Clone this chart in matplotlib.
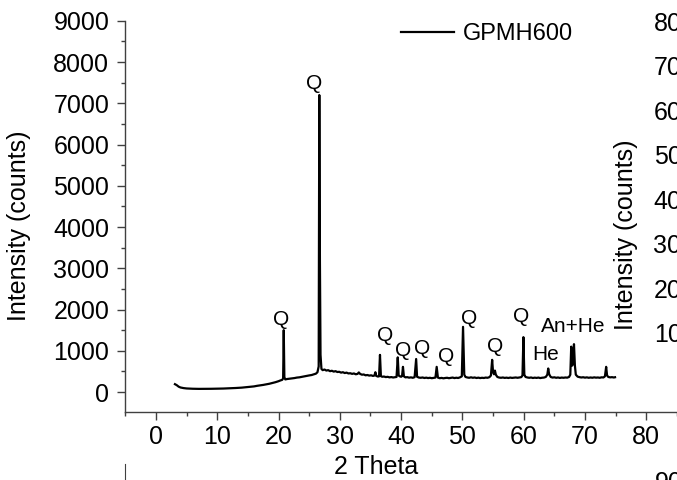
import matplotlib
matplotlib.use("Agg")
import matplotlib.pyplot as plt
from matplotlib.ticker import MultipleLocator

plt.rcParams['font.family'] = ['Liberation Sans', 'DejaVu Sans']

# ---------------- data ----------------
two_theta = [
    3.1, 3.4, 3.7, 4.0, 4.5, 5.0, 5.5, 6.0, 7.0, 8.0, 9.0, 10.0, 11.0, 12.0, 13.0, 14.0,
    15.0, 16.0, 16.5, 17.0, 17.5, 18.0, 18.5, 19.0, 19.5, 20.0, 20.3, 20.6, 20.75, 20.85,
    20.95, 21.1, 21.4, 21.8, 22.2, 22.6, 23.0, 23.4, 23.8, 24.2, 24.6, 25.0, 25.4, 25.8,
    26.1, 26.35, 26.55, 26.65, 26.75, 26.85, 27.0, 27.2, 27.5, 27.8, 28.1, 28.4, 28.7,
    29.0, 29.3, 29.6, 29.9, 30.2, 30.5, 30.8, 31.1, 31.4, 31.7, 32.0, 32.3, 32.6, 32.9,
    33.1, 33.3, 33.6, 33.9, 34.2, 34.5, 34.8, 35.1, 35.4, 35.65, 35.8, 35.95, 36.2, 36.4,
    36.55, 36.7, 36.9, 37.2, 37.5, 37.8, 38.1, 38.4, 38.7, 39.0, 39.25, 39.45, 39.6, 39.8,
    40.0, 40.15, 40.3, 40.45, 40.7, 41.0, 41.3, 41.6, 41.9, 42.2, 42.45, 42.6, 42.9, 43.2,
    43.5, 43.8, 44.1, 44.4, 44.7, 45.0, 45.3, 45.6, 45.8, 46.0, 46.3, 46.6, 46.9, 47.2,
    47.5, 47.8, 48.1, 48.4, 48.7, 49.0, 49.3, 49.6, 49.9, 50.1, 50.3, 50.5, 50.8, 51.1,
    51.4, 51.7, 52.0, 52.3, 52.6, 52.9, 53.2, 53.5, 53.8, 54.1, 54.4, 54.65, 54.85, 55.0,
    55.15, 55.3, 55.45, 55.7, 56.0, 56.3, 56.6, 56.9, 57.2, 57.5, 57.8, 58.1, 58.4, 58.7,
    59.0, 59.3, 59.6, 59.8, 59.95, 60.1, 60.3, 60.6, 60.9, 61.2, 61.5, 61.8, 62.1, 62.4,
    62.7, 63.0, 63.3, 63.6, 63.85, 64.0, 64.15, 64.4, 64.7, 65.0, 65.3, 65.6, 65.9, 66.2,
    66.5, 66.8, 67.1, 67.4, 67.6, 67.75, 67.9, 68.05, 68.2, 68.35, 68.5, 68.8, 69.1, 69.4,
    69.7, 70.0, 70.3, 70.6, 70.9, 71.2, 71.5, 71.8, 72.1, 72.4, 72.7, 73.0, 73.25, 73.45,
    73.6, 73.8, 74.1, 74.4, 74.7, 74.9,
]
intensity = [
    190, 165, 130, 110, 95, 86, 82, 79, 76, 76, 78, 80, 84, 90, 97, 106,
    120, 136, 150, 160, 172, 185, 200, 218, 238, 262, 280, 295, 330, 1500,
    360, 305, 315, 322, 330, 338, 350, 356, 368, 380, 390, 402, 412, 430,
    445, 480, 620, 7200, 3200, 900, 560, 530, 545, 520, 530, 505, 515,
    495, 505, 485, 490, 470, 480, 460, 470, 450, 455, 440, 450, 430, 440,
    475, 440, 420, 425, 405, 412, 398, 405, 390, 400, 480, 390, 375, 380,
    900, 385, 370, 375, 362, 368, 355, 362, 352, 360, 365, 840, 400, 380,
    370, 385, 610, 380, 355, 360, 348, 355, 345, 360, 800, 370, 350, 345,
    352, 340, 348, 338, 345, 335, 342, 350, 610, 350, 335, 342, 332, 340,
    345, 335, 342, 350, 338, 346, 340, 355, 380, 1580, 420, 365, 352, 345,
    356, 345, 352, 340, 348, 338, 345, 340, 350, 345, 360, 400, 780, 480,
    430, 520, 420, 365, 350, 345, 352, 342, 348, 340, 350, 342, 348, 352,
    345, 352, 360, 400, 1330, 420, 365, 352, 345, 352, 340, 348, 342, 350,
    338, 346, 350, 365, 420, 570, 430, 365, 350, 356, 345, 352, 342, 350,
    345, 352, 348, 365, 420, 1100, 640, 700, 1160, 640, 420, 372, 360, 352,
    358, 348, 355, 345, 352, 346, 355, 348, 352, 345, 356, 352, 380, 610,
    400, 365, 355, 360, 352, 358,
]
series_name = "GPMH600"

# phase annotations: label, 2-theta position, intensity position
peak_labels = ["Q", "Q", "Q", "Q", "Q", "Q", "Q", "Q", "Q", "He", "An+He"]
label_x = [20.4, 25.8, 37.4, 40.35, 43.5, 47.4, 51.1, 55.3, 59.5, 63.6, 68.0]
label_y = [1763, 7470, 1358, 1018, 1060, 856, 1787, 1098, 1826, 914, 1584]

x_label = "2 Theta"
y_label = "Intensity (counts)"

# ---------------- figure ----------------
W, H = 677, 480
fig = plt.figure(figsize=(W / 100, H / 100), dpi=100)
spine_c = '#404040'

ax = fig.add_axes([125.3 / W, (H - 412.3) / H, (707.6 - 125.3) / W, (412.3 - 20.8) / H])
ax.plot(two_theta, intensity, color='black', lw=1.6, label=series_name)
ax.set_xlim(-5, 90)
ax.set_ylim(-492, 9000)
ax.xaxis.set_major_locator(MultipleLocator(10))
ax.xaxis.set_minor_locator(MultipleLocator(5))
ax.yaxis.set_major_locator(MultipleLocator(1000))
ax.yaxis.set_minor_locator(MultipleLocator(500))
for s in ['top', 'right']:
    ax.spines[s].set_visible(False)
for s in ['left', 'bottom']:
    ax.spines[s].set_color(spine_c)
    ax.spines[s].set_linewidth(1.0)
ax.tick_params(which='major', direction='out', length=5.5, width=1.0, color=spine_c,
               labelsize=18)
ax.tick_params(which='minor', direction='out', length=2.6, width=1.0, color=spine_c)
ax.tick_params(axis='y', which='major', pad=6)
ax.tick_params(axis='x', which='major', pad=3.5)

for t, lx, ly in zip(peak_labels, label_x, label_y):
    ax.text(lx, ly, t, ha='center', va='center', fontsize=15)

ax.set_xlabel(x_label, fontsize=18)
ax.xaxis.set_label_coords(376 / W, 1 - 455 / H, transform=fig.transFigure)
ax.set_ylabel(y_label, fontsize=18)
ax.yaxis.set_label_coords(31 / W, 1 - 226 / H, transform=fig.transFigure)

ax.legend(loc='center left', bbox_to_anchor=(400.7 / W, 1 - 34 / H),
          bbox_transform=fig.transFigure, frameon=False, fontsize=17,
          handlelength=2.26, handletextpad=0.37, borderpad=0, borderaxespad=0)

# neighbouring panel on the right (mostly outside the crop)
ax2 = fig.add_axes([722 / W, (H - 377.5) / H, 0.8, 400.5 / H])
ax2.set_ylim(0, 9000)
ax2.yaxis.set_major_locator(MultipleLocator(1000))
ax2.set_xticks([])
for s in ['top', 'right', 'bottom']:
    ax2.spines[s].set_visible(False)
ax2.spines['left'].set_color(spine_c)
ax2.tick_params(axis='y', direction='out', length=5.5, color=spine_c, labelsize=18, pad=3.5)
ax2.set_ylabel(y_label, fontsize=18)
ax2.yaxis.set_label_coords(638 / W, 1 - 234.7 / H, transform=fig.transFigure)
ax2.patch.set_alpha(0)

# neighbouring panel below (only its spine top shows)
ax3 = fig.add_axes([125.3 / W, -0.5, 0.5, 0.5 + (H - 464) / H])
ax3.set_xticks([])
ax3.set_yticks([])
for s in ['top', 'right', 'bottom']:
    ax3.spines[s].set_visible(False)
ax3.spines['left'].set_color(spine_c)
ax3.patch.set_alpha(0)
fig.text(655 / W, 1 - 471 / H, "9000", ha='left', va='top', fontsize=18)

fig.savefig("out.png", dpi=100)
